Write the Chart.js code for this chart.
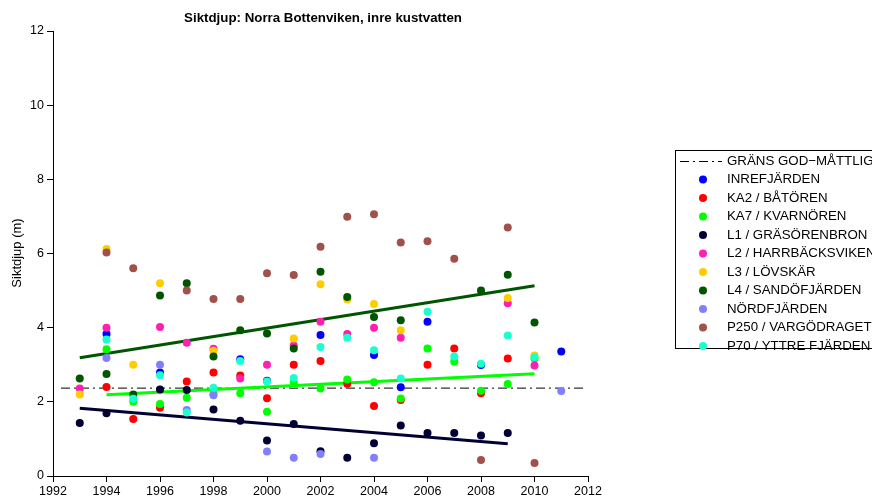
<!DOCTYPE html>
<html>
<head>
<meta charset="utf-8">
<script src="https://cdn.jsdelivr.net/npm/chart.js@4.4.0/dist/chart.umd.min.js"></script>
<style>
html, body { margin: 0; padding: 0; background: #fff; }
#wrap { width: 872px; height: 502px; }
</style>
</head>
<body>
<div id="wrap"><canvas id="sikt_chart" width="872" height="502"></canvas></div>
<script>
// sampling years, one slot per year (null = no measurement)
var years = [1993, 1994, 1995, 1996, 1997, 1998, 1999, 2000, 2001, 2002, 2003, 2004, 2005, 2006, 2007, 2008, 2009, 2010, 2011];

var inrefjarden = [null, 3.83, null, 2.79, null, null, 3.15, 2.57, null, 3.80, null, 3.26, 2.39, 4.16, null, 2.99, null, null, 3.36];
var ka2_batoren = [null, 2.40, 1.54, 1.84, 2.55, 2.79, 2.71, 2.10, 3.00, 3.10, 2.49, 1.89, 2.05, 3.00, 3.44, 2.23, 3.17, null, null];
var ka7_kvarnoren = [null, 3.42, 2.00, 1.94, 2.11, 2.22, 2.23, 1.73, 2.53, 2.36, 2.60, 2.53, 2.09, 3.44, 3.09, 2.30, 2.48, 3.17, null];
var l1_grasorenbron = [1.43, 1.69, null, 2.33, 2.32, 1.79, 1.49, 0.96, 1.40, 0.67, 0.49, 0.88, 1.36, 1.16, 1.16, 1.09, 1.16, null, null];
var l2_harrbacksviken = [2.36, 4.00, null, 4.02, 3.59, 3.43, 2.63, 3.00, 3.52, 4.16, 3.83, 4.00, 3.73, null, null, null, 4.66, 2.98, null];
var l3_lovskar = [2.20, 6.12, 3.00, 5.20, null, 3.38, null, null, 3.71, 5.17, 4.76, 4.64, 3.93, null, null, null, 4.80, 3.25, null];
var l4_sandofjarden = [2.63, 2.75, 2.20, 4.87, 5.20, 3.22, 3.93, 3.84, 3.44, 5.51, 4.83, 4.29, 4.20, null, null, 5.00, 5.43, 4.14, null];
var nordfjarden = [null, 3.18, null, 3.00, 1.78, 2.18, null, 0.66, 0.49, 0.59, null, 0.49, null, null, null, null, null, null, 2.29];
var p250_vargodraget = [null, 6.03, 5.60, null, 5.00, 4.77, 4.77, 5.47, 5.42, 6.18, 6.99, 7.06, 6.30, 6.33, 5.86, 0.43, 6.70, 0.35, null];
var p70_yttre = [null, 3.68, 2.08, 2.72, 1.71, 2.38, 3.10, 2.55, 2.64, 3.48, 3.73, 3.39, 2.63, 4.43, 3.22, 3.03, 3.79, 3.21, null];

// trend lines (start year, end year, start value, end value)
var trend_l4 = [[1993, 2010], [3.19, 5.13]];
var trend_ka7 = [[1994, 2010], [2.19, 2.76]];
var trend_l1 = [[1993, 2009], [1.83, 0.87]];

// class boundary good / moderate
var grans_x = [1992.3, 2011.9];
var grans_y = [2.37, 2.37];

var FONT = '"Liberation Sans", Arial, Helvetica, sans-serif';

function toPoints(vals) {
    var out = [];
    for (var i = 0; i < years.length; i++) {
        if (vals[i] !== null) out.push({ x: years[i], y: vals[i] });
    }
    return out;
}
function toLine(xs, ys) {
    return xs.map(function (x, i) { return { x: x, y: ys[i] }; });
}

var stations = [
    { label: 'INREFJÄRDEN', data: inrefjarden, color: '#0000ff' },
    { label: 'KA2 / BÅTÖREN', data: ka2_batoren, color: '#ff0000' },
    { label: 'KA7 / KVARNÖREN', data: ka7_kvarnoren, color: '#00ff00' },
    { label: 'L1 / GRÄSÖRENBRON', data: l1_grasorenbron, color: '#000033' },
    { label: 'L2 / HARRBÄCKSVIKEN', data: l2_harrbacksviken, color: '#ff1fb0' },
    { label: 'L3 / LÖVSKÄR', data: l3_lovskar, color: '#ffcc00' },
    { label: 'L4 / SANDÖFJÄRDEN', data: l4_sandofjarden, color: '#005500' },
    { label: 'NÖRDFJÄRDEN', data: nordfjarden, color: '#8080ff' },
    { label: 'P250 / VARGÖDRAGET', data: p250_vargodraget, color: '#a0524a' },
    { label: 'P70 / YTTRE FJÄRDEN', data: p70_yttre, color: '#1affd0' }
];

var datasets = [];
datasets.push({
    label: 'GRÄNS GOD−MÅTTLIG',
    data: toLine(grans_x, grans_y),
    showLine: true,
    borderColor: '#000',
    borderWidth: 1,
    borderDash: [9, 4, 2, 4],
    pointRadius: 0,
    order: 20,
    inLegend: true
});
stations.forEach(function (s, i) {
    datasets.push({
        label: s.label,
        data: toPoints(s.data),
        backgroundColor: s.color,
        borderColor: s.color,
        borderWidth: 0,
        pointRadius: 4,
        order: 12 - i,
        inLegend: true
    });
});
[[trend_l4, '#005500'], [trend_ka7, '#00ff00'], [trend_l1, '#000033']].forEach(function (t) {
    datasets.push({
        label: 'trend',
        data: toLine(t[0][0], t[0][1]),
        showLine: true,
        borderColor: t[1],
        borderWidth: 3,
        pointRadius: 0,
        order: 15,
        inLegend: false
    });
});

var decorations = {
    id: 'decorations',
    afterDraw: function (chart) {
        var ctx = chart.ctx;
        ctx.save();
        // title
        ctx.fillStyle = '#000';
        ctx.font = 'bold 13.3px ' + FONT;
        ctx.textAlign = 'center';
        ctx.textBaseline = 'middle';
        ctx.fillText('Siktdjup: Norra Bottenviken, inre kustvatten', 323, 18);
        // y axis title
        ctx.save();
        ctx.translate(17, 253);
        ctx.rotate(-Math.PI / 2);
        ctx.font = '13px ' + FONT;
        ctx.fillText('Siktdjup (m)', 0, 0);
        ctx.restore();
        // legend
        ctx.strokeStyle = '#000';
        ctx.lineWidth = 1;
        ctx.strokeRect(675.5, 150.5, 230, 198);
        ctx.font = '13.3px ' + FONT;
        ctx.textAlign = 'left';
        var y = 161;
        chart.data.datasets.filter(function (d) { return d.inLegend; }).forEach(function (d) {
            if (d.showLine) {
                ctx.setLineDash(d.borderDash);
                ctx.strokeStyle = d.borderColor;
                ctx.beginPath();
                ctx.moveTo(680, y + 0.5);
                ctx.lineTo(722, y + 0.5);
                ctx.stroke();
                ctx.setLineDash([]);
            } else {
                ctx.fillStyle = d.backgroundColor;
                ctx.beginPath();
                ctx.arc(703, y, 4, 0, 2 * Math.PI);
                ctx.fill();
            }
            ctx.fillStyle = '#000';
            ctx.fillText(d.label, 727, y);
            y += 18.5;
        });
        ctx.restore();
    }
};

new Chart(document.getElementById('sikt_chart').getContext('2d'), {
    type: 'scatter',
    data: { datasets: datasets },
    options: {
        responsive: false,
        animation: false,
        events: [],
        layout: { padding: { top: 31, right: 284, left: 0, bottom: 0 } },
        plugins: { legend: { display: false }, tooltip: { enabled: false }, title: { display: false } },
        scales: {
            x: {
                type: 'linear', min: 1992, max: 2012,
                afterFit: function (s) { s.height = 26; },
                ticks: { stepSize: 2, color: '#000', padding: 2, maxRotation: 0, font: { family: FONT, size: 12.5 },
                         callback: function (v) { return String(v); } },
                grid: { drawOnChartArea: false, drawTicks: true, tickLength: 6, color: '#000' },
                border: { display: true, color: '#000', width: 1 }
            },
            y: {
                min: 0, max: 12,
                afterFit: function (s) { s.width = 53; },
                ticks: { stepSize: 2, color: '#000', padding: 3, font: { family: FONT, size: 12.5 } },
                grid: { drawOnChartArea: false, drawTicks: true, tickLength: 6, color: '#000' },
                border: { display: true, color: '#000', width: 1 }
            }
        }
    },
    plugins: [decorations]
});
</script>
</body>
</html>
